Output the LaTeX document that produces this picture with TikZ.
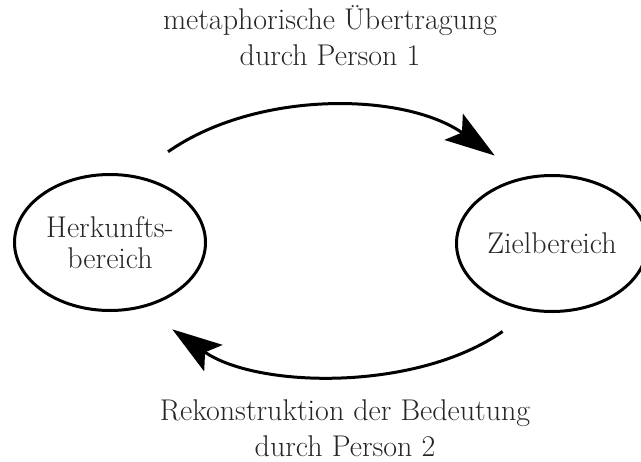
\documentclass[tikz,border=0pt]{standalone}
\usepackage{fontspec}
\usetikzlibrary{arrows.meta,shapes.geometric}
\tikzset{
  bereich/.style={draw,ellipse,line width=1.5pt,minimum width=95.5pt,minimum height=68pt,inner sep=0pt,align=center,text=black!85,font=\fontsize{15}{15.5}\selectfont},
  pfeil/.style={line width=1.5pt,-{Stealth[length=25pt,width=16pt,inset=5pt]}},
  beschriftung/.style={align=center,inner sep=0pt,text=black!85,font=\fontsize{15}{18}\selectfont}
}
\begin{document}
\begin{tikzpicture}[x=0.5pt,y=0.5pt]
\useasboundingbox (0,0) rectangle (641,-461);
% Bereiche
\node[bereich] (herkunft) at (110,-242.5) {Herkunfts-\\bereich};
\node[bereich] (ziel) at (552,-243.5) {Zielbereich};
% Pfeile
\draw[pfeil,shorten <=20.5pt,shorten >=18.5pt] (herkunft.70.5) to[out=35,in=145,looseness=0.97] (ziel.112.2);
\draw[pfeil,shorten <=17.5pt,shorten >=18.5pt] (ziel.253) to[out=215,in=325,looseness=0.92] (herkunft.296);
% Beschriftungen
\node[beschriftung] (oben) at (330,-36) {metaphorische Übertragung\\durch Person 1};
\node[beschriftung] (unten) at (345,-428) {Rekonstruktion der Bedeutung\\durch Person 2};
\end{tikzpicture}
\end{document}
